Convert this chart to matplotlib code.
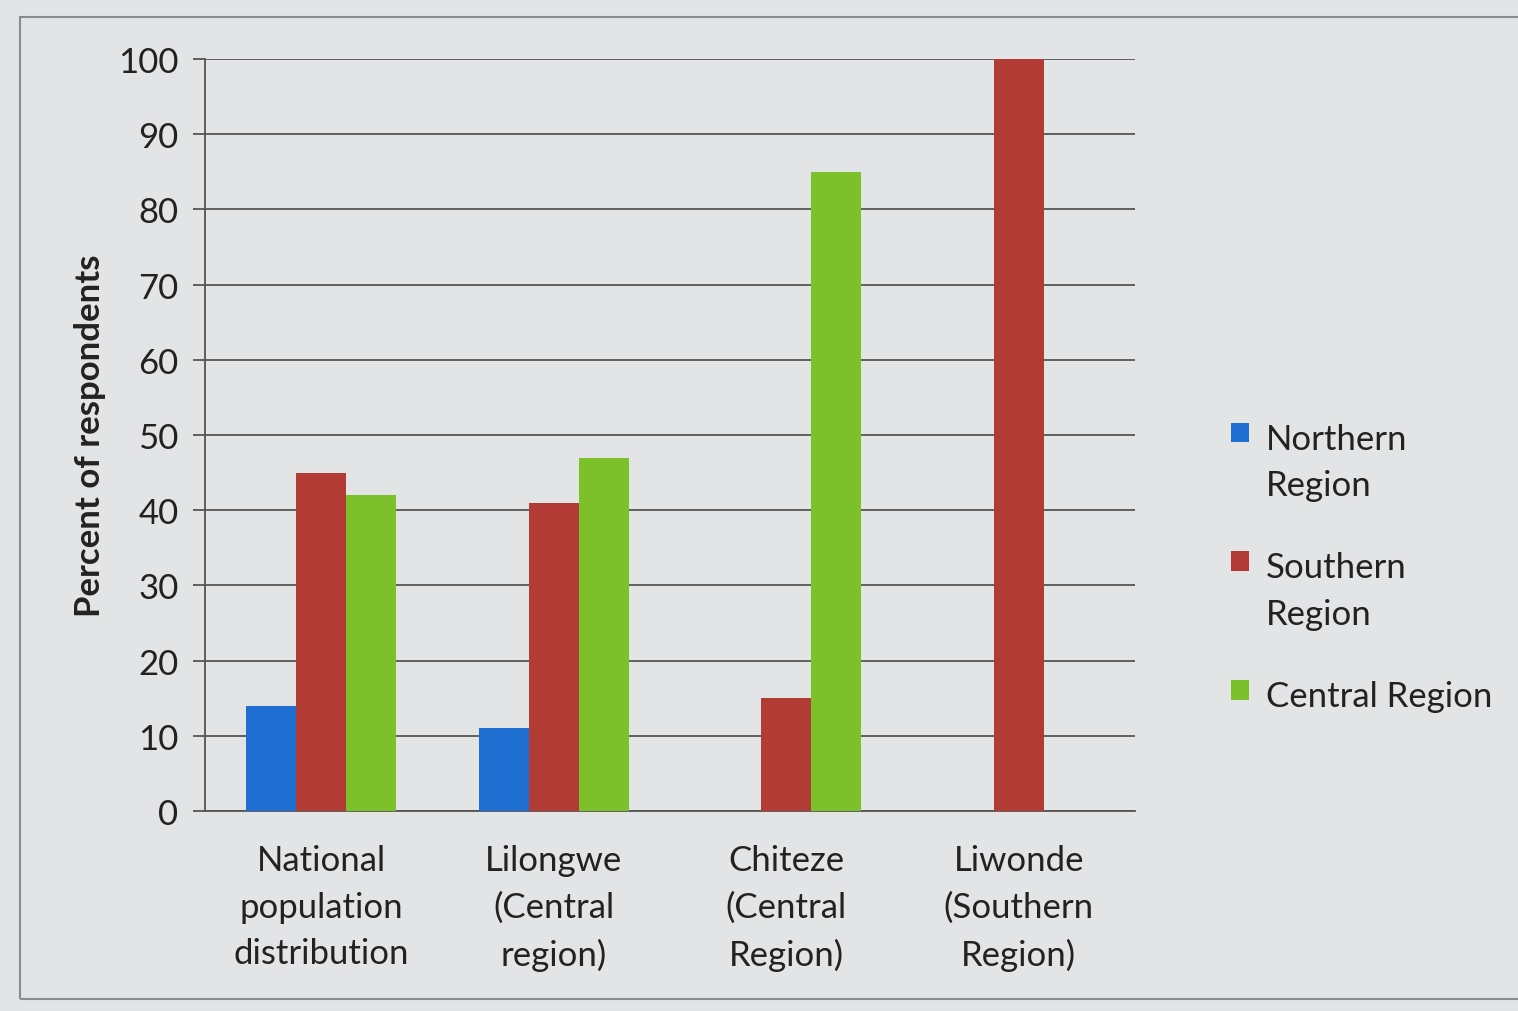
import matplotlib.pyplot as plt
import matplotlib as mpl
import numpy as np
from matplotlib.patches import Rectangle

mpl.rcParams['font.family'] = ['Lato', 'DejaVu Sans']

# survey data: share of respondents by region of origin
sites = ['National\npopulation\ndistribution', 'Lilongwe\n(Central\nregion)',
         'Chiteze\n(Central\nRegion)', 'Liwonde\n(Southern\nRegion)']
northern = [14, 11, 0, 0]
southern = [45, 41, 15, 100]
central = [42, 47, 85, 0]
series_names = ['Northern\nRegion', 'Southern\nRegion', 'Central Region']
colors = ['#1f6fd2', '#b23b36', '#7cc12b']

bg = '#e3e4e6'
fs = 25
fig = plt.figure(figsize=(15.18, 10.12), dpi=100, facecolor=bg)
ax = fig.add_axes([205 / 1518, 1 - 812 / 1012, 930 / 1518, 752 / 1012])
ax.set_facecolor(bg)

# outer frame of the chart area (right edge runs off the page)
fig.patches.append(Rectangle((20 / 1518, 12 / 1012), 1520 / 1518, 982 / 1012,
                             transform=fig.transFigure, fill=False,
                             edgecolor='#8a8b8d', linewidth=1.5))

x = np.arange(len(sites))
w = 0.215
for i, (vals, c, name) in enumerate(zip([northern, southern, central], colors, series_names)):
    ax.bar(x + (i - 1) * w, vals, width=w, color=c, label=name, zorder=3)

ax.set_xlim(-0.5, len(sites) - 0.5)
ax.set_ylim(0, 100)
ax.set_yticks(range(0, 101, 10))
ax.yaxis.grid(True, color='#555555', linewidth=1.3, zorder=0)
ax.set_axisbelow(True)

for s in ['top', 'right']:
    ax.spines[s].set_visible(False)
ax.spines['left'].set_color('#555555')
ax.spines['bottom'].set_color('#555555')
ax.spines['left'].set_linewidth(1.3)
ax.spines['bottom'].set_linewidth(1.3)

ax.set_xticks(x)
ax.set_xticklabels(sites, fontsize=fs, color='#222222', linespacing=1.55)
ax.tick_params(axis='x', length=0, pad=24)
ax.tick_params(axis='y', labelsize=fs, labelcolor='#222222', length=9,
               color='#555555', width=1.3, pad=10)

ax.set_ylabel('Percent of respondents', fontsize=fs, fontweight='bold',
              color='#222222', labelpad=9)

leg = ax.legend(loc='upper left', bbox_to_anchor=(1.07, 0.558), frameon=False,
                fontsize=fs, handlelength=0.5, handleheight=0.5, handletextpad=0.5,
                labelspacing=1.45, labelcolor='#222222')
for t in leg.get_texts():
    t.set_linespacing(1.55)
# put each colour square beside the first line of its label
for col in leg._legend_handle_box.get_children():
    for row in col.get_children():
        row.align = 'top'

fig.savefig('out.png', dpi=100, facecolor=bg)
